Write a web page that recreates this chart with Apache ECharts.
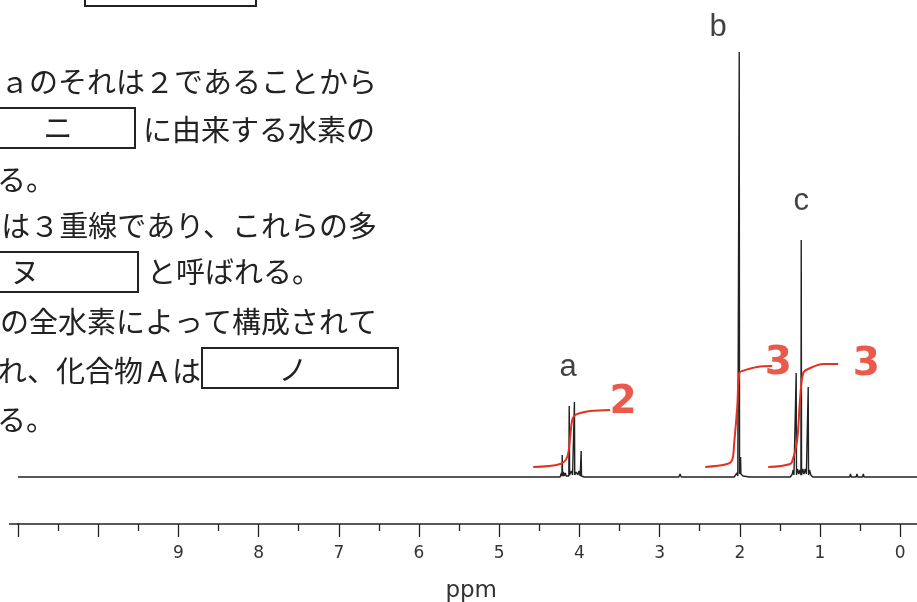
<!DOCTYPE html>
<html><head><meta charset="utf-8">
<script src="https://cdn.jsdelivr.net/npm/echarts@6/dist/echarts.min.js"></script>
<style>html,body{margin:0;padding:0;background:#fff}#c{width:917px;height:602px}</style>
</head><body><div id="c"></div>
<script>
// ---- data (ppm, relative intensity) ----
const spectrum = [
  [11.0,0],[6.0,0],[4.45,0],[4.39,0],[4.385,2],[4.38,0],[4.3,0],
  [4.24,0],[4.225,4],[4.218,1],[4.214,22],[4.21,1],[4.2,5],[4.19,1],[4.175,4],[4.165,1],[4.132,1],[4.127,71],[4.122,2],
  [4.1,6],[4.085,2],[4.066,2],[4.062,75],[4.058,2],[4.04,5],[4.02,2],[4.005,6],[3.99,1],[3.982,1],[3.978,26],[3.974,1],[3.96,2],[3.94,0],
  [3.88,0],[3.5,0],[3.0,0],[2.8,0],[2.76,0],[2.745,3],[2.73,0],[2.6,0],[2.3,0],
  [2.12,0],[2.07,0],[2.05,2],[2.035,4],[2.025,1],[2.011,2],[2.007,425],[2.003,3],[1.994,3],[1.99,20],[1.986,3],[1.975,5],[1.96,1],[1.94,0],
  [1.88,0],[1.7,0],[1.5,0],[1.42,0],
  [1.37,0],[1.345,3],[1.335,7],[1.325,2],[1.301,2],[1.297,104],[1.293,2],[1.28,8],[1.265,3],[1.25,7],[1.238,2],[1.234,237],[1.23,2],
  [1.215,8],[1.2,3],[1.185,8],[1.17,3],[1.151,2],[1.147,90],[1.143,2],[1.13,7],[1.115,2],[1.09,0],
  [1.03,0],[0.9,0],[0.7,0],[0.63,0],[0.62,3],[0.61,0],[0.55,0],[0.54,3],[0.53,0],[0.47,0],[0.46,3],[0.45,0],
  [0.3,0],[0.0,0],[-1.0,0]
];
const integralA = [[4.576,10],[4.239,13],[4.152,20],[4.115,40],[4.090,57],[4.052,62],[3.990,64],[3.865,66],[3.616,67]];
const integralB = [[2.431,10],[2.157,13],[2.095,17],[2.070,34],[2.032,70],[2.007,104],[1.970,106],[1.783,110],[1.596,111]];
const integralC = [[1.646,10],[1.372,13],[1.334,19],[1.284,37],[1.247,80],[1.209,104],[1.147,108],[0.960,113],[0.773,113]];
const peakLabels = [['a',4.14,110],['b',2.27,450],['c',1.234,276]];
const integralLabels = [['2',3.454,74],['3',1.521,113],['3',0.424,112]];
const tickLabels = ['0','1','2','3','4','5','6','7','8','9'];
const axisName = 'ppm';
const textLines = [
  ['ａのそれは２であることから', 377, 82, 'right'],
  ['に由来する水素の', 143, 130, 'left'],
  ['る。', -3, 180, 'left'],
  ['は３重線であり、これらの多', 377, 226, 'right'],
  ['と呼ばれる。', 147, 272, 'left'],
  ['の全水素によって構成されて', 377, 322, 'right'],
  ['れ、化合物Ａは', 201, 371, 'right'],
  ['る。', -3, 420, 'left']
];
const boxes = [[85,-10,171,16,''],[-10,108,145,40,'ニ'],[-10,252,148,40,'ヌ'],[202,348,196,40,'ノ']];
const boxLabelPos = [[0,0],[58,128],[25,272],[293,370]];

const RED = '#e5311f';
const INK = '#222';
const jp = '"Noto Sans CJK JP", sans-serif';

const graphics = [];
textLines.forEach(t => graphics.push({type:'text', silent:true, style:{text:t[0], x:t[1], y:t[2], align:t[3], verticalAlign:'middle', font:'29px ' + jp, fill:INK}}));
boxes.forEach((b,i) => {
  graphics.push({type:'rect', silent:true, shape:{x:b[0],y:b[1],width:b[2],height:b[3]}, style:{fill:'none', stroke:INK, lineWidth:2}});
  if (b[4]) graphics.push({type:'text', silent:true, style:{text:b[4], x:boxLabelPos[i][0], y:boxLabelPos[i][1], align:'center', verticalAlign:'middle', font:'29px ' + jp, fill:INK}});
});
graphics.push({type:'line', silent:true, shape:{x1:9,y1:524,x2:19,y2:524}, style:{stroke:INK, lineWidth:1.5}});

const chart = echarts.init(document.getElementById('c'), null, {renderer:'canvas'});
chart.setOption({
  animation:false,
  backgroundColor:'#fff',
  grid:{left:18, width:962.4, top:0, height:524, outerBoundsMode:'none', containLabel:false},
  xAxis:{
    type:'value', inverse:true, min:-1, max:11, interval:1,
    axisLine:{onZero:false, lineStyle:{color:INK, width:1.5}},
    axisTick:{inside:false, length:13, lineStyle:{color:INK, width:1.3}},
    minorTick:{show:true, splitNumber:2, length:7, lineStyle:{color:INK, width:1.3}},
    splitLine:{show:false}, minorSplitLine:{show:false},
    axisLabel:{margin:21, fontSize:17, color:'#333', fontFamily:'"DejaVu Sans", sans-serif',
      formatter: v => tickLabels.indexOf(String(v)) >= 0 ? String(v) : ''},
    name:axisName, nameLocation:'middle', nameGap:56,
    nameTextStyle:{fontSize:23, color:'#333', fontFamily:'"DejaVu Sans", sans-serif', padding:[0,56,0,0]}
  },
  yAxis:{type:'value', show:false, min:-47, max:477},
  graphic: graphics,
  series:[
    {type:'line', data:spectrum, showSymbol:false, silent:true, sampling:'none', lineStyle:{color:'#222', width:1.4}, z:2},
    {type:'line', data:integralA, showSymbol:false, silent:true, smooth:0.35, lineStyle:{color:RED, width:2}, z:3},
    {type:'line', data:integralB, showSymbol:false, silent:true, smooth:0.35, lineStyle:{color:RED, width:2}, z:3},
    {type:'line', data:integralC, showSymbol:false, silent:true, smooth:0.35, lineStyle:{color:RED, width:2}, z:3},
    {type:'scatter', silent:true, symbolSize:0, z:4,
      data: peakLabels.map(p => ({name:p[0], value:[p[1],p[2]]})),
      label:{show:true, position:'inside', formatter:'{b}', fontSize:31, color:'#111', fontFamily:'"Liberation Sans", Arial, sans-serif'}},
    {type:'scatter', silent:true, symbolSize:0, z:4,
      data: integralLabels.map(p => ({name:p[0], value:[p[1],p[2]]})),
      label:{show:true, position:'inside', formatter:'{b}', fontSize:39, fontWeight:'bold', color:RED, fontFamily:'"DejaVu Sans", sans-serif'}}
  ]
});
</script></body></html>
